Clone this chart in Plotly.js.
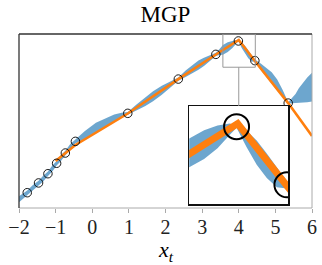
<!DOCTYPE html>
<html>
<head>
<meta charset="utf-8">
<script src="https://cdn.plot.ly/plotly-3.0.1.min.js"></script>
<style>html,body{margin:0;padding:0;background:#fff;}#chart{width:322px;height:265px;}</style>
</head>
<body>
<div id="chart"></div>
<script>
// observed points
var pointX = [-1.775, -1.466, -1.21, -0.973, -0.735, -0.46, 0.97, 2.35, 3.375, 3.99, 4.44, 5.35];
var pointY = [0.88, 1.44, 1.97, 2.57, 3.16, 3.83, 5.44, 7.41, 8.83, 9.60, 8.47, 6.03];
// MGP mean (orange)
var meanX = [-1.0, -0.46, 0.97, 2.35, 3.375, 4.0, 4.44, 5.35, 6.0];
var meanY = [2.70, 3.62, 5.43, 7.41, 8.82, 9.66, 8.45, 6.03, 4.14];
// uncertainty band (blue)
var bandX = [-2.0, -1.775, -1.62, -1.466, -1.34, -1.21, -1.09, -0.973, -0.855, -0.735, -0.60, -0.46,
  -0.2, 0.1, 0.35, 0.6, 0.8, 0.97,
  1.2, 1.45, 1.66, 1.9, 2.15, 2.35,
  2.55, 2.75, 2.9, 3.05, 3.22, 3.375,
  3.47, 3.567, 3.7, 3.82, 3.93, 3.99,
  4.08, 4.17, 4.26, 4.35, 4.44,
  4.6, 4.75, 4.9, 5.05, 5.2, 5.35,
  5.45, 5.55, 5.64, 5.75, 5.87, 6.0];
var bandLo = [0.33, 0.75, 1.00, 1.31, 1.53, 1.84, 2.10, 2.44, 2.70, 3.03, 3.33, 3.72,
  3.95, 4.30, 4.62, 4.93, 5.20, 5.36,
  5.59, 5.86, 6.13, 6.51, 6.96, 7.32,
  7.53, 7.74, 7.94, 8.16, 8.46, 8.73,
  8.80, 8.81, 8.97, 9.18, 9.44, 9.58,
  9.20, 8.86, 8.60, 8.42, 8.40,
  7.94, 7.53, 7.13, 6.76, 6.38, 6.00,
  6.02, 6.03, 6.03, 6.05, 6.08, 6.12];
var bandHi = [0.67, 1.01, 1.32, 1.57, 1.85, 2.10, 2.44, 2.70, 3.04, 3.29, 3.68, 3.94,
  4.42, 4.90, 5.12, 5.38, 5.48, 5.52,
  5.93, 6.38, 6.71, 7.03, 7.28, 7.50,
  7.90, 8.26, 8.48, 8.64, 8.80, 8.92,
  9.13, 9.37, 9.53, 9.62, 9.66, 9.62,
  9.52, 9.33, 9.08, 8.80, 8.54,
  8.30, 8.05, 7.80, 7.38, 6.78, 6.08,
  6.30, 6.55, 6.88, 7.20, 7.50, 7.78];
var tickVals = [-2, -1, 0, 1, 2, 3, 4, 5, 6];
var tickText = ['\u22122', '\u22121', '0', '1', '2', '3', '4', '5', '6'];
// inset view
var insetX = [3.567, 4.452];
var insetY = [8.09, 10.0];

var blueFill = 'rgba(31,119,180,0.65)';
var orange = '#ff7f0e';

function makeTraces(xa, ya, lw, ms, mlw) {
  return [
    {x: bandX, y: bandLo, xaxis: xa, yaxis: ya, mode: 'lines', line: {width: 0, color: blueFill}, hoverinfo: 'skip', showlegend: false},
    {x: bandX, y: bandHi, xaxis: xa, yaxis: ya, mode: 'lines', fill: 'tonexty', fillcolor: blueFill, line: {width: 0, color: blueFill}, hoverinfo: 'skip', showlegend: false},
    {x: meanX, y: meanY, xaxis: xa, yaxis: ya, mode: 'lines', line: {width: lw, color: orange}, showlegend: false},
    {x: pointX, y: pointY, xaxis: xa, yaxis: ya, mode: 'markers', marker: {symbol: 'circle-open', size: ms, color: '#000', line: {width: mlw, color: '#000'}}, showlegend: false}
  ];
}

var data = makeTraces('x', 'y', 2.6, 8.5, 0.9).concat(makeTraces('x2', 'y2', 7, 25, 2));

var serif = 'Liberation Serif, Times New Roman, serif';
var layout = {
  width: 322, height: 265,
  margin: {l: 19, r: 10, t: 34, b: 57},
  paper_bgcolor: '#fff', plot_bgcolor: '#fff',
  showlegend: false,
  title: {text: 'MGP', font: {family: serif, size: 23, color: '#000'}, x: 0.5, xref: 'paper', y: 0.949, yanchor: 'middle'},
  xaxis: {domain: [0, 1], range: [-2, 6], tickvals: tickVals, ticktext: tickText, ticks: 'outside', ticklen: 4, tickcolor: '#aaa', tickwidth: 1,
    showgrid: false, zeroline: false, showline: false, tickfont: {family: serif, size: 20, color: '#222'}, ticklabelstandoff: -3},
  yaxis: {domain: [0, 1], range: [0, 10.0], visible: false, showgrid: false, zeroline: false},
  xaxis2: {domain: [0.581, 0.919], anchor: 'y2', range: insetX, showticklabels: false, ticks: '', showgrid: false, zeroline: false,
    showline: true, mirror: true, linecolor: '#111', linewidth: 1.5},
  yaxis2: {domain: [0.021, 0.586], anchor: 'x2', range: insetY, showticklabels: false, ticks: '', showgrid: false, zeroline: false,
    showline: true, mirror: true, linecolor: '#111', linewidth: 1.5},
  shapes: [
    {type: 'line', xref: 'paper', yref: 'paper', x0: 0, x1: 1, y0: 0, y1: 0, line: {color: '#aaa', width: 1}},
    {type: 'line', xref: 'paper', yref: 'paper', x0: 1, x1: 1, y0: 0, y1: 1, line: {color: '#aaa', width: 1}},
    {type: 'line', xref: 'paper', yref: 'paper', x0: 0, x1: 0, y0: 0, y1: 1, line: {color: '#333', width: 1.3}},
    {type: 'line', xref: 'paper', yref: 'paper', x0: 0, x1: 1, y0: 1, y1: 1, line: {color: '#333', width: 1.3}},
    {type: 'rect', xref: 'x', yref: 'y', x0: insetX[0], x1: insetX[1], y0: insetY[0], y1: insetY[1], line: {color: '#999', width: 1}, layer: 'above'},
    {type: 'line', xref: 'x', yref: 'y', x0: 4.0, x1: 4.0, y0: insetY[0], y1: 5.86, line: {color: '#999', width: 1}, layer: 'above'}
  ],
  annotations: [
    {text: '<i>x</i><sub><i>t</i></sub>', xref: 'paper', yref: 'paper', x: 0.5, y: -0.245, xanchor: 'center', yanchor: 'middle', showarrow: false,
      font: {family: serif, size: 22, color: '#000'}}
  ]
};

Plotly.newPlot('chart', data, layout, {staticPlot: true, displayModeBar: false});
</script>
</body>
</html>
